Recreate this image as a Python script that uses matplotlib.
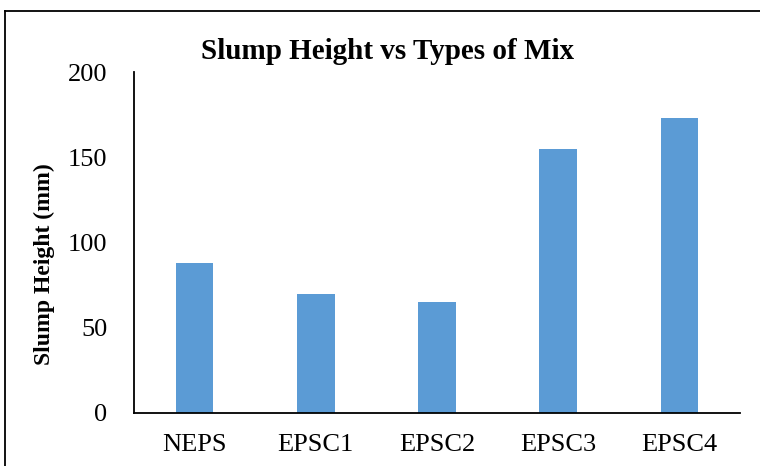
import matplotlib.pyplot as plt
from matplotlib.lines import Line2D

# data
mixes = ['NEPS', 'EPSC1', 'EPSC2', 'EPSC3', 'EPSC4']
slump = [88, 70, 65, 155, 173]
yticks = [0, 50, 100, 150, 200]

plt.rcParams['font.family'] = ['Liberation Serif', 'DejaVu Serif']

fig = plt.figure(figsize=(7.6, 4.66), dpi=100)
ax = fig.add_axes([0.176, 0.114, 0.798, 0.731])

ax.bar(range(len(mixes)), slump, width=0.31, color='#5B9BD5')
ax.set_xlim(-0.5, len(mixes) - 0.5)
ax.set_ylim(0, 200)
ax.set_yticks(yticks)
ax.set_xticks(range(len(mixes)))
ax.set_xticklabels(mixes)
ax.tick_params(length=0, labelsize=19)
ax.tick_params(axis='x', pad=15)
ax.tick_params(axis='y', pad=19)

for s in ['top', 'right']:
    ax.spines[s].set_visible(False)
for s in ['left', 'bottom']:
    ax.spines[s].set_linewidth(1.3)
    ax.spines[s].set_color('black')

ax.set_ylabel('Slump Height (mm)', fontsize=17, fontweight='bold')
ax.yaxis.set_label_coords(-0.13, 0.437)
fig.text(0.51, 0.89, 'Slump Height vs Types of Mix', ha='center', va='center',
         fontsize=21, fontweight='bold')

# outer frame (only top and left visible in the reference)
fig.add_artist(Line2D([0.007, 1.0], [0.976, 0.976], color='black', lw=1.3))
fig.add_artist(Line2D([0.007, 0.007], [0.0, 0.976], color='black', lw=1.3))

fig.savefig('out.png', dpi=100)
